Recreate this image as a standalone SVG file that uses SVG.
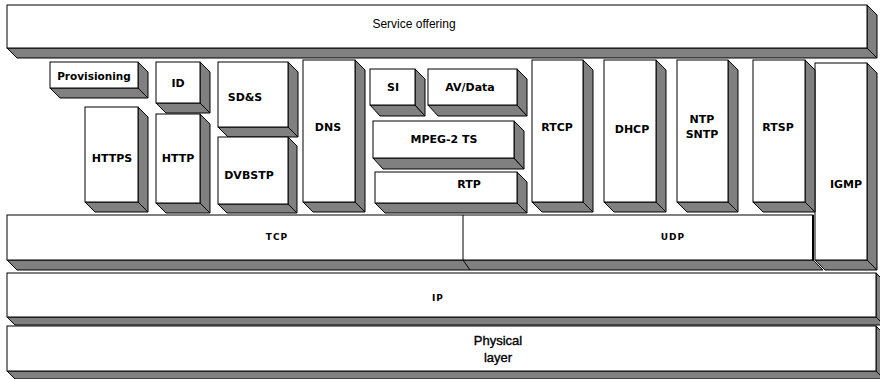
<svg xmlns="http://www.w3.org/2000/svg" width="880" height="379" viewBox="0 0 880 379">
<style>
.f{fill:#fff;stroke:#000;stroke-width:1}
.s{fill:#808080;stroke:#000;stroke-width:1;stroke-linejoin:miter}
.b{font-family:"DejaVu Sans",Verdana,sans-serif;font-weight:bold;font-size:11px;text-anchor:middle;fill:#000}
.sm{font-family:"DejaVu Sans",Verdana,sans-serif;font-weight:bold;font-size:9px;letter-spacing:1px;text-anchor:middle;fill:#000}
.r{font-family:"Liberation Sans",Arial,sans-serif;font-size:12px;text-anchor:middle;fill:#000}
.ph{font-family:"Liberation Sans",Arial,sans-serif;font-size:13px;text-anchor:middle;fill:#000;stroke:#000;stroke-width:0.35}
</style>
<rect width="880" height="379" fill="#fff"/>
<g id="physical">
<polygon class="s" points="7,371 876,371 884,379 15,379"/>
<polygon class="s" points="876,326 884,334 884,379 876,371"/>
<rect class="f" x="7" y="326" width="869" height="45"/>
<text class="ph" x="498" y="345">Physical</text>
<text class="ph" x="498" y="362">layer</text>
</g>
<g id="ip">
<polygon class="s" points="7,317 876,317 884,325 15,325"/>
<polygon class="s" points="876,273 884,281 884,325 876,317"/>
<rect class="f" x="7" y="273" width="869" height="44"/>
<text class="sm" x="438" y="301">IP</text>
</g>
<g id="igmp">
<polygon class="s" points="815,260 867,260 877,270 825,270"/>
<polygon class="s" points="867,63 877,73 877,270 867,260"/>
<rect class="f" x="815" y="63" width="52" height="197"/>
<text class="b" x="846" y="188">IGMP</text>
</g>
<g id="tcp-udp">
<polygon class="s" points="7,260 813,260 823,270 17,270"/>
<rect class="f" x="7" y="215" width="806" height="45"/>
<line x1="463" y1="215" x2="463" y2="260" stroke="#000" stroke-width="1"/>
<line x1="463" y1="260" x2="470" y2="270" stroke="#000" stroke-width="1"/>
<line x1="813" y1="215" x2="813" y2="260" stroke="#000" stroke-width="2"/>
<g id="tcp"><text class="sm" x="277" y="240">TCP</text></g>
<g id="udp"><text class="sm" x="673" y="240">UDP</text></g>
</g>
<g id="provisioning">
<polygon class="s" points="50,88 138,88 148,98 60,98"/>
<polygon class="s" points="138,62 148,72 148,98 138,88"/>
<rect class="f" x="50" y="62" width="88" height="26"/>
<text class="b" x="94" y="80" style="font-size:10.5px">Provisioning</text>
</g>
<g id="id">
<polygon class="s" points="156,103 200,103 210,113 166,113"/>
<polygon class="s" points="200,62 210,72 210,113 200,103"/>
<rect class="f" x="156" y="62" width="44" height="41"/>
<text class="b" x="178" y="87">ID</text>
</g>
<g id="https">
<polygon class="s" points="85,202 138,202 148,212 95,212"/>
<polygon class="s" points="138,107 148,117 148,212 138,202"/>
<rect class="f" x="85" y="107" width="53" height="95"/>
<text class="b" x="112" y="162">HTTPS</text>
</g>
<g id="http">
<polygon class="s" points="156,203 200,203 210,213 166,213"/>
<polygon class="s" points="200,114 210,124 210,213 200,203"/>
<rect class="f" x="156" y="114" width="44" height="89"/>
<text class="b" x="178" y="162">HTTP</text>
</g>
<g id="sds">
<polygon class="s" points="218,127 288,127 298,137 228,137"/>
<polygon class="s" points="288,62 298,72 298,137 288,127"/>
<rect class="f" x="218" y="62" width="70" height="65"/>
<text class="b" x="245" y="101">SD&amp;S</text>
</g>
<g id="dvbstp">
<polygon class="s" points="218,204 288,204 297,213 227,213"/>
<polygon class="s" points="288,137 297,146 297,213 288,204"/>
<rect class="f" x="218" y="137" width="70" height="67"/>
<text class="b" x="249" y="179">DVBSTP</text>
</g>
<g id="dns">
<polygon class="s" points="303,202 355,202 365,212 313,212"/>
<polygon class="s" points="355,60 365,70 365,212 355,202"/>
<rect class="f" x="303" y="60" width="52" height="142"/>
<text class="b" x="328" y="131">DNS</text>
</g>
<g id="si">
<polygon class="s" points="370,105 415,105 425,116 380,116"/>
<polygon class="s" points="415,69 425,79 425,116 415,105"/>
<rect class="f" x="370" y="69" width="45" height="36"/>
<text class="b" x="393" y="91">SI</text>
</g>
<g id="avdata">
<polygon class="s" points="428,105 517,105 527,116 438,116"/>
<polygon class="s" points="517,69 527,79 527,116 517,105"/>
<rect class="f" x="428" y="69" width="89" height="36"/>
<text class="b" x="470" y="91">AV/Data</text>
</g>
<g id="mpeg2ts">
<polygon class="s" points="373,158 514,158 524,169 383,169"/>
<polygon class="s" points="514,121 524,131 524,169 514,158"/>
<rect class="f" x="373" y="121" width="141" height="37"/>
<text class="b" x="444" y="143">MPEG-2 TS</text>
</g>
<g id="rtp">
<polygon class="s" points="375,203 517,203 527,213 385,213"/>
<polygon class="s" points="517,172 527,182 527,213 517,203"/>
<rect class="f" x="375" y="172" width="142" height="31"/>
<text class="b" x="469" y="188">RTP</text>
</g>
<g id="rtcp">
<polygon class="s" points="532,202 583,202 593,212 542,212"/>
<polygon class="s" points="583,60 593,70 593,212 583,202"/>
<rect class="f" x="532" y="60" width="51" height="142"/>
<text class="b" x="557" y="131">RTCP</text>
</g>
<g id="dhcp">
<polygon class="s" points="604,202 656,202 666,212 614,212"/>
<polygon class="s" points="656,60 666,70 666,212 656,202"/>
<rect class="f" x="604" y="60" width="52" height="142"/>
<text class="b" x="632" y="133">DHCP</text>
</g>
<g id="ntp">
<polygon class="s" points="677,202 728,202 738,212 687,212"/>
<polygon class="s" points="728,60 738,70 738,212 728,202"/>
<rect class="f" x="677" y="60" width="51" height="142"/>
<text class="b" x="702" y="123">NTP</text>
<text class="b" x="702" y="138">SNTP</text>
</g>
<g id="rtsp">
<polygon class="s" points="753,202 805,202 815,212 763,212"/>
<polygon class="s" points="805,60 815,70 815,212 805,202"/>
<rect class="f" x="753" y="60" width="52" height="142"/>
<text class="b" x="778" y="131">RTSP</text>
</g>
<g id="service-offering">
<polygon class="s" points="7,48 867,48 877,58 17,58"/>
<polygon class="s" points="867,5 877,15 877,58 867,48"/>
<rect class="f" x="7" y="5" width="860" height="43"/>
<text class="r" x="414" y="28">Service offering</text>
</g>
<g id="connectors"/>
</svg>
